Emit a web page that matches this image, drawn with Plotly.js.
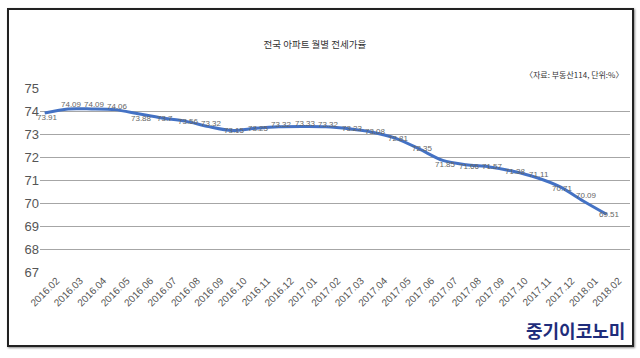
<!DOCTYPE html>
<html><head><meta charset="utf-8">
<script src="https://cdn.plot.ly/plotly-3.0.1.min.js"></script>
<style>
html,body{margin:0;padding:0;background:#fff;}
#wrap{position:relative;width:640px;height:358px;}
#chart{width:640px;height:358px;}
#frame{position:absolute;left:7px;top:8px;width:623px;height:335px;border:2px solid #222;pointer-events:none;box-shadow:1px 1px 2px #888;}
</style></head>
<body>
<div id="wrap"><div id="chart"></div><div id="frame"></div></div>
<script>
var months = ["2016.02","2016.03","2016.04","2016.05","2016.06","2016.07","2016.08","2016.09","2016.10","2016.11","2016.12","2017.01","2017.02","2017.03","2017.04","2017.05","2017.06","2017.07","2017.08","2017.09","2017.10","2017.11","2017.12","2018.01","2018.02"];
var ratio = [73.91,74.09,74.09,74.06,73.88,73.7,73.56,73.32,73.15,73.25,73.32,73.33,73.32,73.23,73.08,72.81,72.35,71.85,71.66,71.57,71.38,71.11,70.71,70.09,69.51];
// vertical nudges of the value labels (px, positive = up)
var labelNudge = [-4,4,4,3,-5,-1,0,3,0,0,2,3,2,0,1,0,0,-4,-2,0,0,3,-2,5,0];

var trace = {
  x: months, y: ratio, type: 'scatter', mode: 'lines',
  line: {color: '#4472C4', width: 3, shape: 'spline', smoothing: 0.8},
  hoverinfo: 'none'
};
var labels = months.map(function(m, i){
  return {x: i, y: ratio[i], xref: 'x', yref: 'y', text: String(ratio[i]), showarrow: false,
          xanchor: 'center', yanchor: 'middle', xshift: 3, yshift: labelNudge[i],
          font: {family: 'Liberation Sans', size: 8, color: '#666'}};
});
var layout = {
  width: 640, height: 358,
  margin: {l: 40, r: 10, t: 88, b: 86},
  paper_bgcolor: '#fff', plot_bgcolor: '#fff',
  showlegend: false,
  title: {text: '전국 아파트 월별 전세가율', x: 0.492, xanchor: 'center', y: 0.874, yanchor: 'middle',
          font: {family: 'Noto Sans CJK KR', size: 9.5, color: '#333'}},
  xaxis: {type: 'category', range: [-0.2, 25], tickangle: -45, showgrid: false, zeroline: false,
          showline: false, ticks: '', ticklabelshift: 12,
          tickfont: {family: 'Liberation Sans, Arial, sans-serif', size: 10, color: '#555'}},
  yaxis: {range: [67, 75], dtick: 1, showgrid: true, gridcolor: '#a6a6a6', gridwidth: 1, zeroline: false,
          showline: false, ticks: '', tickfont: {family: 'Liberation Sans, Arial, sans-serif', size: 13, color: '#555'}},
  annotations: labels.concat([
    {text: '〈자료: 부동산114, 단위:%〉', xref: 'paper', yref: 'paper', x: 1.0, y: 1.0, yshift: 14, xshift: -5,
     xanchor: 'right', yanchor: 'middle', showarrow: false,
     font: {family: 'Noto Sans CJK KR', size: 8, color: '#333'}},
    {text: '<b>중기이코노미</b>', xref: 'paper', yref: 'paper', x: 1.0, y: 0, yshift: -58, xshift: -3,
     xanchor: 'right', yanchor: 'middle', showarrow: false,
     font: {family: 'Noto Sans CJK KR', size: 18, color: '#1f2d7b'}}
  ])
};
Plotly.newPlot('chart', [trace], layout, {displayModeBar: false, staticPlot: true});
</script>
</body></html>
